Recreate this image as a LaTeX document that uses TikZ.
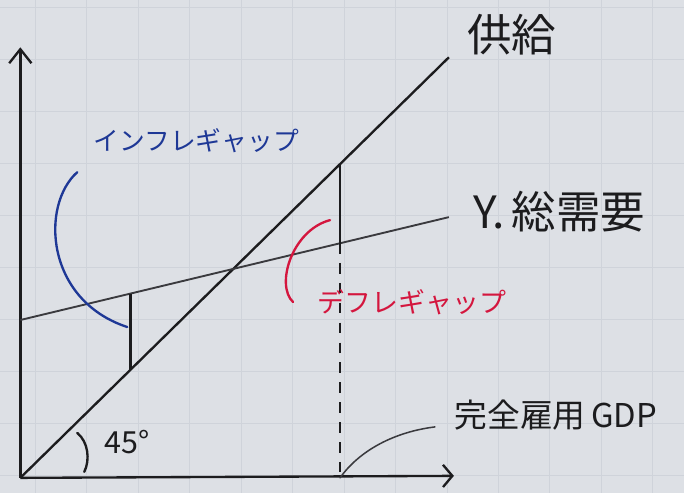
\documentclass[tikz,border=0pt]{standalone}
\usepackage{fontspec}
\setmainfont{Noto Sans CJK JP}
\usetikzlibrary{arrows.meta,positioning}

\definecolor{paper}{RGB}{221,224,229}
\definecolor{gridcol}{RGB}{207,211,218}
\definecolor{ink}{RGB}{28,28,30}
\definecolor{pencil}{RGB}{58,58,62}
\definecolor{infblue}{RGB}{30,56,150}
\definecolor{defred}{RGB}{212,22,62}

\begin{document}
\begin{tikzpicture}[
    x=0.03cm,
    y=-0.03cm,
    yaxis/.style={-{Straight Barb[length=12pt,width=19pt]}, line width=2pt, ink},
    xaxis/.style={-{Straight Barb[length=8pt,width=19pt]}, line width=2pt, ink},
    supply/.style={line width=2pt, ink},
    demand/.style={line width=1.6pt, pencil},
    gapline/.style={line width=2.3pt, ink},
    guide/.style={line width=1.4pt, ink, dash pattern=on 9pt off 8pt},
    bracket/.style={line width=2pt, line cap=round},
    leader/.style={line width=1.3pt, pencil, line cap=round},
    gridl/.style={line width=0.6pt, gridcol},
    lab/.style={inner sep=0pt, ink},
    hugelab/.style={lab, font=\fontsize{38}{42}\selectfont},
    biglab/.style={lab, font=\fontsize{28}{32}\selectfont},
    gaplab/.style={lab, font=\fontsize{22}{26}\selectfont}
  ]
    % paper
    \fill[paper] (0,0) rectangle (684,493);
    \foreach \gx in {35,86.5,...,680} \draw[gridl] (\gx,0) -- (\gx,493);
    \foreach \gy in {7,59,...,490} \draw[gridl] (0,\gy) -- (684,\gy);
    \useasboundingbox (0,0) rectangle (684,493);

    % axes
    \coordinate (O) at (20,478);
    \coordinate (ytip) at (20,47);
    \coordinate (xtip) at (454,476);
    \draw[yaxis] (O) -- (ytip);
    \draw[xaxis] (O) -- (xtip);

    % supply (45 deg) and aggregate demand
    \coordinate (S1) at (449,57);
    \coordinate (D0) at (20,320);
    \coordinate (D1) at (449,217);
    \draw[supply] (O) -- (S1);
    \draw[demand] (D0) -- (D1);
    \node[hugelab] (supplylab) at (512,34) {供給};
    \node[hugelab, anchor=west] (demandlab) at (473,211) {Y.\,総需要};

    % gaps
    \coordinate (inftop) at (130,294);
    \coordinate (infbot) at (130,370);
    \coordinate (deftop) at (340,164);
    \coordinate (defbot) at (340,243);
    \coordinate (full) at (340,478);
    \draw[gapline] (inftop) -- (infbot);
    \draw[gapline] (deftop) -- (defbot);
    \draw[guide] (defbot) -- (full);

    % brackets and their labels
    \coordinate (infa) at (77,172);
    \coordinate (infb) at (127,327);
    \coordinate (defa) at (330,220);
    \coordinate (defb) at (293,302);
    \draw[bracket, infblue] (infa) .. controls (40,205) and (45,300) .. (infb);
    \draw[bracket, defred] (defa) .. controls (292,230) and (275,285) .. (defb);
    \node[gaplab, infblue] (inflab) at (196,140) {インフレギャップ};
    \node[gaplab, defred, font=\fontsize{23}{27}\selectfont] (deflab) at (412,302) {デフレギャップ};

    % 45 degrees
    \coordinate (anga) at (77,433);
    \coordinate (angb) at (84,472);
    \draw[bracket, ink] (anga) .. controls (88,442) and (90,460) .. (angb);
    \node[biglab, font=\fontsize{26}{30}\selectfont] (anglab) at (127,442) {45°};

    % full employment
    \node[biglab] (gdplab) at (556,415) {完全雇用\,GDP};
    \coordinate (gdplead) at (435,427);
    \draw[leader] (full) .. controls (360,450) and (395,432) .. (gdplead);
\end{tikzpicture}
\end{document}
